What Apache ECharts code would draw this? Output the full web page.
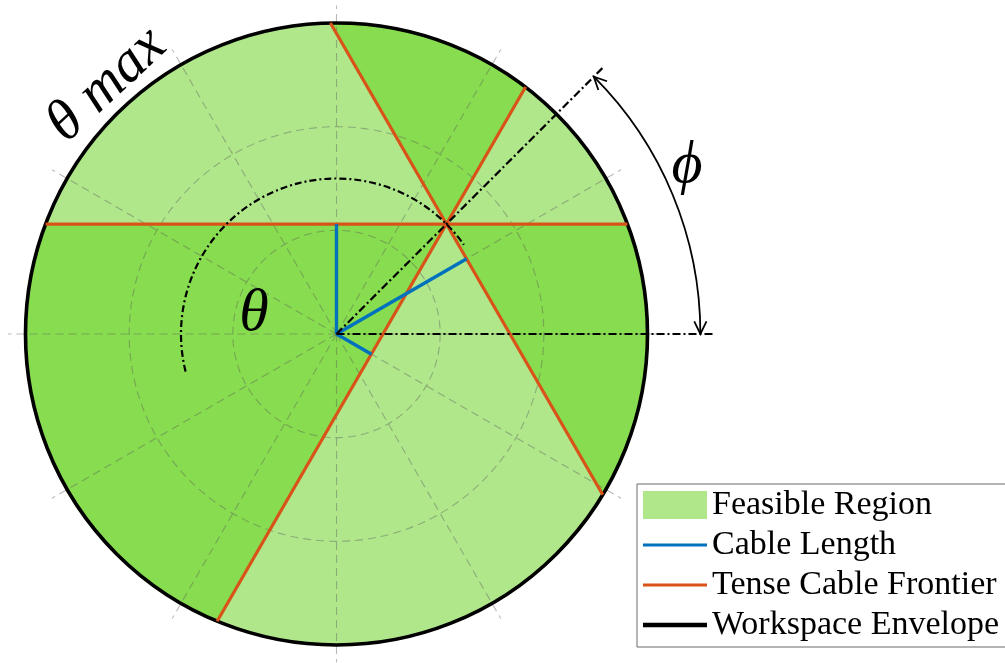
<!DOCTYPE html>
<html>
<head>
<meta charset="utf-8">
<title>Cable workspace</title>
<script src="https://cdn.jsdelivr.net/npm/echarts@6/dist/echarts.min.js"></script>
<style>
  html, body { margin: 0; padding: 0; background: #ffffff; }
  #chart { width: 1005px; height: 663px; }
</style>
</head>
<body>
<div id="chart"></div>
<script>
// ---- Workspace data (lengths in envelope units, angles in degrees) ----
const envelopeRadius = 3;
const ringRadii = [1, 2];
const spokeAngles = [0, 30, 60, 90, 120, 150, 180, 210, 240, 270, 300, 330];

// Crossing point of the three tense-cable frontiers, polar [radius, angle]
const frontierPoint = [1.5, 45];
const frontierAngles = [0, 60, 120];

// Regions around the crossing point, counter-clockwise from the 0° ray
const regionRays = [0, 60, 120, 180, 240, 300];
const regionShade = ['light', 'dark', 'light', 'dark', 'light', 'dark'];

// Cables leaving the centre: direction and length
const cableAngles = [90, 30, -30];
const cableLengths = [1.06, 1.45, 0.39];

// Angle annotations
const guideAngles = [0, 45];
const guideLength = 3.65;
const thetaArc = [1.5, 35, 194];   // radius, from, to
const phiArc = [3.51, 0, 45];      // radius, from, to

const legendNames = ['Feasible Region', 'Cable Length', 'Tense Cable Frontier', 'Workspace Envelope'];

// ---- Styling ----
const LIGHT = '#b0e78b';
const DARK = '#87dc4f';
const ORANGE = '#d95319';
const BLUE = '#0072bd';
const GRID = 'rgba(90,90,90,0.42)';

// ---- Geometry helpers ----
const rad = d => d * Math.PI / 180;
const polar = (r, deg) => [r * Math.cos(rad(deg)), r * Math.sin(rad(deg))];
const P = polar(frontierPoint[0], frontierPoint[1]);

// point where a ray from p in direction deg meets the envelope
function toEnvelope(p, deg) {
  const d = [Math.cos(rad(deg)), Math.sin(rad(deg))];
  const b = p[0] * d[0] + p[1] * d[1];
  const c = p[0] * p[0] + p[1] * p[1] - envelopeRadius * envelopeRadius;
  const t = -b + Math.sqrt(b * b - c);
  return [p[0] + t * d[0], p[1] + t * d[1]];
}

function arrowHead(tip, dir, len, half) {
  const bx = -dir[0], by = -dir[1];
  const rot = (a) => [bx * Math.cos(a) - by * Math.sin(a), bx * Math.sin(a) + by * Math.cos(a)];
  const l = rot(half), r = rot(-half);
  return [[tip[0] + l[0] * len, tip[1] + l[1] * len], tip, [tip[0] + r[0] * len, tip[1] + r[1] * len]];
}

// ---- Chart layout: centre of the envelope and pixel scale ----
const W = 1005, H = 663;
const CX = 336.5, CY = 334, UNIT = 311 / envelopeRadius;

const chart = echarts.init(document.getElementById('chart'), null, { renderer: 'canvas', width: W, height: H });

const option = {
  animation: false,
  backgroundColor: '#ffffff',
  grid: { left: 0, right: 0, top: 0, bottom: 0 },
  xAxis: { type: 'value', min: -CX / UNIT, max: (W - CX) / UNIT, show: false },
  yAxis: { type: 'value', min: -(H - CY) / UNIT, max: CY / UNIT, show: false },
  legend: {
    orient: 'vertical',
    left: 637,
    top: 484,
    selectedMode: false,
    symbolKeepAspect: true,
    itemWidth: 64,
    itemHeight: 28,
    itemGap: 6,
    padding: [4, 30, 5, 6],
    borderColor: '#6a6a6a',
    borderWidth: 1,
    borderRadius: 0,
    backgroundColor: '#ffffff',
    itemStyle: { borderWidth: 0 },
    textStyle: { fontFamily: 'Liberation Serif', fontSize: 34, color: '#000', lineHeight: 30 },
    data: [
      { name: legendNames[0], icon: 'rect' },
      { name: legendNames[1], icon: 'path://M0 0H64V3.2H0Z' },
      { name: legendNames[2], icon: 'path://M0 0H64V3.2H0Z' },
      { name: legendNames[3], icon: 'path://M0 0H64V4.5H0Z' }
    ]
  },
  graphic: [
    { type: 'text', x: 107, y: 85, rotation: rad(43), z: 100,
      style: { text: 'θ max', font: 'italic 58px "Liberation Serif"', fill: '#000', align: 'center', verticalAlign: 'middle' } },
    { type: 'text', x: 254, y: 314, z: 100,
      style: { text: 'θ', font: 'italic 60px "Liberation Serif"', fill: '#000', align: 'center', verticalAlign: 'middle' } },
    { type: 'text', x: 687, y: 166, z: 100,
      style: { text: 'ϕ', font: 'italic 60px "Liberation Serif", "DejaVu Serif"', fill: '#000', align: 'center', verticalAlign: 'middle' } }
  ],
  series: [
    {
      // six regions split by the frontiers, filled light / dark
      type: 'custom',
      name: legendNames[0],
      coordinateSystem: 'cartesian2d',
      z: 1,
      itemStyle: { color: LIGHT },
      data: regionRays.map((a, i) => [a, i]),
      renderItem(params, api) {
        const i = api.value(1);
        const a1 = api.value(0);
        const a2 = i + 1 < regionRays.length ? regionRays[i + 1] : regionRays[0] + 360;
        const A = toEnvelope(P, a1), B = toEnvelope(P, a2);
        const p = api.coord(P), pa = api.coord(A), pb = api.coord(B);
        const R = api.size([envelopeRadius, 0])[0];
        let span = (Math.atan2(B[1], B[0]) - Math.atan2(A[1], A[0])) * 180 / Math.PI;
        span = ((span % 360) + 360) % 360;
        const large = span > 180 ? 1 : 0;
        const color = regionShade[i] === 'dark' ? DARK : LIGHT;
        const d = 'M' + p[0] + ' ' + p[1] + ' L' + pa[0] + ' ' + pa[1] +
          ' A' + R + ' ' + R + ' 0 ' + large + ' 0 ' + pb[0] + ' ' + pb[1] + ' Z';
        return { type: 'path', shape: { pathData: d }, style: { fill: color, stroke: color, lineWidth: 0.6 } };
      }
    },
    {
      // polar grid: spokes
      type: 'custom',
      coordinateSystem: 'cartesian2d',
      z: 2,
      silent: true,
      data: spokeAngles.map(a => [a]),
      renderItem(params, api) {
        const o = api.coord([0, 0]);
        const e = api.coord(polar(3.17, api.value(0)));
        return { type: 'line', shape: { x1: o[0], y1: o[1], x2: e[0], y2: e[1] },
          style: { stroke: GRID, lineWidth: 1.1, lineDash: [8, 5] } };
      }
    },
    {
      // polar grid: rings
      type: 'custom',
      coordinateSystem: 'cartesian2d',
      z: 2,
      silent: true,
      data: ringRadii.map(r => [r]),
      renderItem(params, api) {
        const o = api.coord([0, 0]);
        const r = api.size([api.value(0), 0])[0];
        return { type: 'circle', shape: { cx: o[0], cy: o[1], r: r },
          style: { fill: 'transparent', stroke: GRID, lineWidth: 1.1, lineDash: [8, 5] } };
      }
    },
    {
      type: 'custom',
      name: legendNames[3],
      coordinateSystem: 'cartesian2d',
      z: 3,
      itemStyle: { color: '#000' },
      data: [[envelopeRadius]],
      renderItem(params, api) {
        const o = api.coord([0, 0]);
        const r = api.size([api.value(0), 0])[0];
        return { type: 'circle', shape: { cx: o[0], cy: o[1], r: r },
          style: { fill: 'transparent', stroke: '#000', lineWidth: 3.6 } };
      }
    },
    {
      type: 'custom',
      name: legendNames[2],
      coordinateSystem: 'cartesian2d',
      z: 4,
      itemStyle: { color: ORANGE },
      data: frontierAngles.map(a => [a]),
      renderItem(params, api) {
        const a = api.value(0);
        const s = api.coord(toEnvelope(P, a));
        const e = api.coord(toEnvelope(P, a + 180));
        return { type: 'line', shape: { x1: s[0], y1: s[1], x2: e[0], y2: e[1] },
          style: { stroke: ORANGE, lineWidth: 3.2 } };
      }
    },
    {
      type: 'custom',
      name: legendNames[1],
      coordinateSystem: 'cartesian2d',
      z: 5,
      itemStyle: { color: BLUE },
      data: cableAngles.map((a, i) => [a, cableLengths[i]]),
      renderItem(params, api) {
        const o = api.coord([0, 0]);
        const e = api.coord(polar(api.value(1), api.value(0)));
        return { type: 'line', shape: { x1: o[0], y1: o[1], x2: e[0], y2: e[1] },
          style: { stroke: BLUE, lineWidth: 3.4 } };
      }
    },
    {
      // dash-dot reference directions
      type: 'custom',
      coordinateSystem: 'cartesian2d',
      z: 6,
      silent: true,
      data: guideAngles.map(a => [a]),
      renderItem(params, api) {
        const o = api.coord([0, 0]);
        const e = api.coord(polar(guideLength, api.value(0)));
        return { type: 'line', shape: { x1: o[0], y1: o[1], x2: e[0], y2: e[1] },
          style: { stroke: '#000', lineWidth: 2.2, lineDash: [8, 3, 2, 3] } };
      }
    },
    {
      // theta sweep
      type: 'custom',
      coordinateSystem: 'cartesian2d',
      z: 6,
      silent: true,
      data: [thetaArc],
      renderItem(params, api) {
        const o = api.coord([0, 0]);
        const r = api.size([api.value(0), 0])[0];
        return { type: 'arc', shape: { cx: o[0], cy: o[1], r: r,
            startAngle: -rad(api.value(2)), endAngle: -rad(api.value(1)), clockwise: true },
          style: { fill: 'none', stroke: '#000', lineWidth: 2.2, lineDash: [7, 3, 2, 3] } };
      }
    },
    {
      // phi angle with arrow tips at both ends
      type: 'custom',
      coordinateSystem: 'cartesian2d',
      z: 6,
      silent: true,
      data: [phiArc],
      renderItem(params, api) {
        const o = api.coord([0, 0]);
        const rr = api.value(0), a0 = api.value(1), a1 = api.value(2);
        const r = api.size([rr, 0])[0];
        const t1 = api.coord(polar(rr, a1));
        const t0 = api.coord(polar(rr, a0));
        const head1 = arrowHead(t1, [-Math.sin(rad(a1)), -Math.cos(rad(a1))], 14, rad(26));
        const head0 = arrowHead(t0, [Math.sin(rad(a0)), Math.cos(rad(a0))], 14, rad(26));
        const st = { fill: 'none', stroke: '#000', lineWidth: 1.8 };
        return { type: 'group', children: [
          { type: 'arc', shape: { cx: o[0], cy: o[1], r: r,
              startAngle: -rad(a1), endAngle: -rad(a0), clockwise: true }, style: st },
          { type: 'polyline', shape: { points: head1 }, style: st },
          { type: 'polyline', shape: { points: head0 }, style: st }
        ] };
      }
    }
  ]
};

chart.setOption(option);
</script>
</body>
</html>
